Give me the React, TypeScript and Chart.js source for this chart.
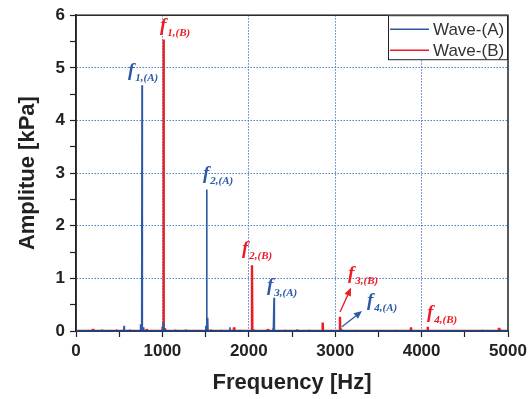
import React, { useEffect, useRef } from "react";
import { Chart, registerables } from "chart.js";

Chart.register(...registerables);

// ---------- data ----------
const seriesNames = ["Wave-(A)", "Wave-(B)"];
const seriesColors = ["#2c5aa6", "#ec1c24"];

const xTickValues = [0, 1000, 2000, 3000, 4000, 5000];
const yTickValues = [0, 1, 2, 3, 4, 5, 6];

// Wave-(A) spectral peaks (Hz, kPa)
const peakFreqA = [40, 150, 300, 390, 470, 556, 620, 745, 764, 782, 1000, 1010, 1030, 1150, 1270, 1400, 1500, 1512, 1524, 1680, 1782, 1900, 2060, 2200, 2280, 2292, 2420, 2560, 2700, 2950, 3070, 3250, 3480, 3700, 3870, 4150, 4450, 4700, 4920];
const peakAmpA = [0.02, 0.02, 0.03, 0.02, 0.03, 0.1, 0.03, 0.13, 4.67, 0.07, 0.08, 0.17, 0.05, 0.03, 0.03, 0.02, 0.1, 2.69, 0.25, 0.02, 0.07, 0.02, 0.03, 0.02, 0.05, 0.63, 0.02, 0.03, 0.02, 0.02, 0.04, 0.02, 0.02, 0.02, 0.03, 0.02, 0.02, 0.02, 0.02];

// Wave-(B) spectral peaks (Hz, kPa)
const peakFreqB = [197, 520, 818, 1000, 1013, 1030, 1560, 1829, 2037, 2222, 2855, 3055, 3877, 4070, 4896];
const peakAmpB = [0.04, 0.02, 0.04, 0.08, 5.54, 0.05, 0.03, 0.07, 1.25, 0.04, 0.16, 0.27, 0.07, 0.08, 0.06];

// peak labels
const labelSub = ["1,(A)", "1,(B)", "2,(A)", "2,(B)", "3,(A)", "3,(B)", "4,(A)", "4,(B)"];
const labelSeries = [0, 1, 0, 1, 0, 1, 0, 1];
const labelFreq = [602, 972, 1470, 1921, 2211, 3148, 3368, 4062];
const labelAmp = [4.84, 5.70, 2.89, 1.46, 0.76, 0.99, 0.47, 0.25];

// arrows pointing to small peaks
const arrowSeries = [1, 0];
const arrowFromFreq = [3056, 3079];
const arrowFromAmp = [0.36, 0.08];
const arrowToFreq = [3183, 3310];
const arrowToAmp = [0.82, 0.38];

const X_MIN = 0, X_MAX = 5000, Y_MIN = 0, Y_MAX = 6;

function buildSpectrum(freqs: number[], amps: number[]) {
  const pts: { x: number; y: number }[] = [{ x: X_MIN, y: 0 }];
  const w = 4;
  freqs.forEach((f, i) => {
    pts.push({ x: f - w, y: 0 }, { x: f, y: amps[i] }, { x: f + w, y: 0 });
  });
  pts.push({ x: X_MAX, y: 0 });
  return pts;
}

const GRID = "#4f7fcf";
const DARK = "#222222";

const framePlugin = {
  id: "frameLegendLabels",
  afterDatasetsDraw(chart: any) {
    const { ctx, chartArea, scales } = chart;
    const xs = scales.x, ys = scales.y;
    ctx.save();
    // labels
    labelSub.forEach((sub, i) => {
      const px = xs.getPixelForValue(labelFreq[i]);
      const py = ys.getPixelForValue(labelAmp[i]);
      ctx.fillStyle = seriesColors[labelSeries[i]];
      ctx.textBaseline = "alphabetic";
      ctx.textAlign = "left";
      ctx.font = "bold italic 19px 'Liberation Serif'";
      ctx.fillText("f", px, py);
      const fw = ctx.measureText("f").width;
      ctx.font = "bold italic 11px 'Liberation Serif'";
      ctx.fillText(sub, px + fw + 1, py + 5);
    });
    // arrows
    arrowSeries.forEach((s, i) => {
      const x1 = xs.getPixelForValue(arrowFromFreq[i]);
      const y1 = ys.getPixelForValue(arrowFromAmp[i]);
      const x2 = xs.getPixelForValue(arrowToFreq[i]);
      const y2 = ys.getPixelForValue(arrowToAmp[i]);
      const col = seriesColors[s];
      ctx.strokeStyle = col;
      ctx.fillStyle = col;
      ctx.lineWidth = 1.3;
      const ang = Math.atan2(y2 - y1, x2 - x1);
      const hl = 8, hw = 3.5;
      const bx = x2 - hl * Math.cos(ang), by = y2 - hl * Math.sin(ang);
      ctx.beginPath();
      ctx.moveTo(x1, y1);
      ctx.lineTo(bx, by);
      ctx.stroke();
      ctx.beginPath();
      ctx.moveTo(x2, y2);
      ctx.lineTo(bx + hw * Math.sin(ang), by - hw * Math.cos(ang));
      ctx.lineTo(bx - hw * Math.sin(ang), by + hw * Math.cos(ang));
      ctx.closePath();
      ctx.fill();
    });
    // frame
    ctx.strokeStyle = DARK;
    ctx.lineWidth = 1.5;
    ctx.strokeRect(chartArea.left, chartArea.top, chartArea.right - chartArea.left, chartArea.bottom - chartArea.top);
    // baseline of the spectra over the axis
    ctx.strokeStyle = "#243f73";
    ctx.lineWidth = 2.2;
    ctx.beginPath();
    ctx.moveTo(chartArea.left, ys.getPixelForValue(0));
    ctx.lineTo(chartArea.right, ys.getPixelForValue(0));
    ctx.stroke();
    // legend
    const bw = 120, bh = 45;
    const bx = chartArea.right - bw, by = chartArea.top;
    ctx.fillStyle = "#ffffff";
    ctx.fillRect(bx, by, bw, bh);
    ctx.strokeStyle = DARK;
    ctx.lineWidth = 1;
    ctx.strokeRect(bx + 0.5, by + 0.5, bw - 1, bh - 1);
    seriesNames.forEach((name, i) => {
      const ly = by + 14 + i * 21;
      ctx.strokeStyle = seriesColors[i];
      ctx.lineWidth = 1.5;
      ctx.beginPath();
      ctx.moveTo(bx + 2, ly);
      ctx.lineTo(bx + 41, ly);
      ctx.stroke();
      ctx.fillStyle = "#333333";
      ctx.font = "17px 'Liberation Sans'";
      ctx.textAlign = "left";
      ctx.textBaseline = "middle";
      ctx.fillText(name, bx + 45, ly + 1);
    });
    ctx.restore();
  },
};

export default function App() {
  const ref = useRef<HTMLCanvasElement | null>(null);
  useEffect(() => {
    if (!ref.current) return;
    const chart = new Chart(ref.current, {
      type: "line",
      data: {
        datasets: [
          {
            label: seriesNames[0],
            data: buildSpectrum(peakFreqA, peakAmpA),
            borderColor: seriesColors[0],
            borderWidth: 1.6,
            borderJoinStyle: "bevel",
            pointRadius: 0,
            tension: 0,
            fill: false,
          },
          {
            label: seriesNames[1],
            data: buildSpectrum(peakFreqB, peakAmpB),
            borderColor: seriesColors[1],
            borderWidth: 2.4,
            borderJoinStyle: "bevel",
            pointRadius: 0,
            tension: 0,
            fill: false,
          },
        ],
      },
      options: {
        responsive: false,
        animation: false,
        parsing: false as any,
        layout: { padding: { top: 15, right: 24, left: 0, bottom: 0 } },
        plugins: { legend: { display: false }, tooltip: { enabled: false } },
        scales: {
          x: {
            type: "linear",
            min: X_MIN,
            max: X_MAX,
            afterBuildTicks: (s: any) => {
              const t = [];
              for (let v = X_MIN; v <= X_MAX; v += 500) t.push({ value: v });
              s.ticks = t;
            },
            afterFit: (s: any) => { s.height = 68; },
            ticks: {
              autoSkip: false,
              maxRotation: 0,
              padding: 4,
              color: DARK,
              font: { family: "'Liberation Sans'", size: 17, weight: "bold" },
              callback: (v: any) => (xTickValues.includes(v) ? String(v) : ""),
            },
            grid: {
              color: (c: any) => {
                const v = c.tick ? c.tick.value : -1;
                return xTickValues.includes(v) && v !== X_MIN && v !== X_MAX ? GRID : "transparent";
              },
              lineWidth: 1,
              tickColor: DARK,
              tickLength: 6,
              tickWidth: 1.2,
              tickBorderDash: [],
            } as any,
            border: { display: true, color: DARK, width: 1.5, dash: [1.5, 1.5] } as any,
            title: {
              display: true,
              text: "Frequency [Hz]",
              color: DARK,
              font: { family: "'Liberation Sans'", size: 22, weight: "bold" },
              padding: { top: 0, bottom: 3 },
            },
          },
          y: {
            type: "linear",
            min: Y_MIN,
            max: Y_MAX,
            afterBuildTicks: (s: any) => {
              const t = [];
              for (let v = Y_MIN; v <= Y_MAX + 1e-9; v += 0.5) t.push({ value: v });
              s.ticks = t;
            },
            afterFit: (s: any) => { s.width = 76; },
            ticks: {
              autoSkip: false,
              padding: 5,
              color: DARK,
              font: { family: "'Liberation Sans'", size: 17, weight: "bold" },
              callback: (v: any) => (yTickValues.includes(v) ? String(v) : ""),
            },
            grid: {
              color: (c: any) => {
                const v = c.tick ? c.tick.value : -1;
                return yTickValues.includes(v) && v !== Y_MIN && v !== Y_MAX ? GRID : "transparent";
              },
              lineWidth: 1,
              tickColor: DARK,
              tickLength: 6,
              tickWidth: 1.2,
              tickBorderDash: [],
            } as any,
            border: { display: true, color: DARK, width: 1.5, dash: [1.5, 1.5] } as any,
            title: {
              display: true,
              text: "Amplitue [kPa]",
              color: DARK,
              font: { family: "'Liberation Sans'", size: 22, weight: "bold" },
              padding: { top: 15, bottom: 0 },
            },
          },
        },
      },
      plugins: [framePlugin],
    });
    return () => chart.destroy();
  }, []);
  return (
    <div style={{ position: "fixed", left: 0, top: 0, width: 532, height: 399, background: "#fff" }}>
      <canvas ref={ref} width={532} height={399} />
    </div>
  );
}
